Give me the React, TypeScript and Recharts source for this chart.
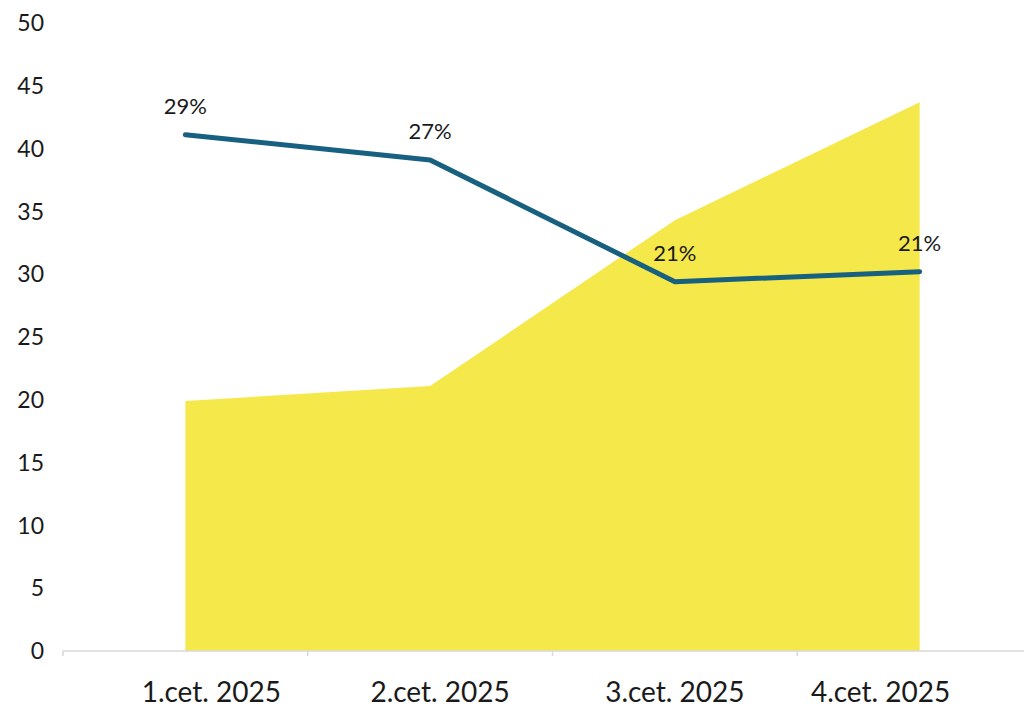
import { ComposedChart, Area, Line, XAxis, YAxis, LabelList } from 'recharts'

const quarters = ['1.cet. 2025', '2.cet. 2025', '3.cet. 2025', '4.cet. 2025']
const areaValues = [19.9, 21.1, 34.3, 43.7]
const lineValues = [41.1, 39.1, 29.4, 30.2]
const lineLabels = ['29%', '27%', '21%', '21%']
const yTicks = [0, 5, 10, 15, 20, 25, 30, 35, 40, 45, 50]

const FONT = 'Lato, "Noto Sans", sans-serif'
const AXIS_GREY = '#d9d9d9'

// small horizontal nudges so the quarter labels sit like the original
const tickNudge = [26, 10, 0, -39]

function QuarterTick(props: any) {
  const { x, y, payload, index, width, visibleTicksCount } = props
  const count = visibleTicksCount || quarters.length
  const band = (Number(width) || 979) / count
  const axisY = y - 31
  const left = x - band / 2
  return (
    <g>
      <line x1={left} x2={left} y1={axisY} y2={axisY + 5} stroke={AXIS_GREY} strokeWidth={1.5} />
      {index === count - 1 && (
        <line x1={left + band} x2={left + band} y1={axisY} y2={axisY + 5} stroke={AXIS_GREY} strokeWidth={1.5} />
      )}
      <text
        x={x + (tickNudge[index] ?? 0)}
        y={y}
        dy="0.71em"
        textAnchor="middle"
        fill="#1a1a1a"
        fontSize={28}
        fontFamily={FONT}
      >
        {payload.value}
      </text>
    </g>
  )
}

export default function App() {
  const data = quarters.map((q, i) => ({
    quarter: q,
    area: areaValues[i],
    line: lineValues[i],
    label: lineLabels[i],
  }))

  return (
    <div style={{ position: 'fixed', left: 0, top: 0, width: 1024, height: 706, overflow: 'hidden', background: '#fff' }}>
      <ComposedChart width={1060} height={706} data={data} margin={{ top: 23, right: 18, left: 0, bottom: 0 }}>
        <XAxis
          dataKey="quarter"
          scale="band"
          height={55}
          tick={<QuarterTick />}
          tickSize={5}
          tickMargin={26}
          axisLine={{ stroke: AXIS_GREY, strokeWidth: 1.5 }}
          tickLine={false}
          interval={0}
        />
        <YAxis
          domain={[0, 50]}
          ticks={yTicks}
          width={63}
          axisLine={false}
          tickLine={false}
          tickSize={0}
          tickMargin={19}
          tick={{ fill: '#1a1a1a', fontSize: 23, fontFamily: FONT }}
        />
        <Area
          dataKey="area"
          type="linear"
          fill="#f5e84a"
          fillOpacity={1}
          stroke="none"
          isAnimationActive={false}
        />
        <Line
          dataKey="line"
          type="linear"
          stroke="#17607f"
          strokeWidth={5}
          strokeLinecap="round"
          strokeLinejoin="round"
          dot={false}
          activeDot={false}
          isAnimationActive={false}
        >
          <LabelList
            dataKey="label"
            position="top"
            offset={21}
            fill="#1a1a1a"
            fontSize={22}
            fontFamily={FONT}
          />
        </Line>
      </ComposedChart>
    </div>
  )
}
